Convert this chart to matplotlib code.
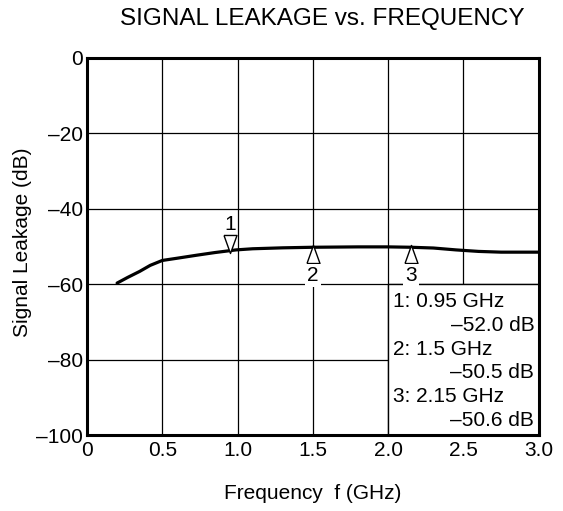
import matplotlib
matplotlib.use("Agg")
import matplotlib.pyplot as plt
import numpy as np
from matplotlib.patches import Rectangle

plt.rcParams['font.family'] = ['Liberation Sans', 'DejaVu Sans']

freq = [0.2, 0.27, 0.35, 0.42, 0.5, 0.6, 0.73, 0.85, 0.99, 1.1, 1.3, 1.5, 1.8, 2.0, 2.15, 2.3, 2.45, 2.6, 2.75, 2.9, 3.0]
leak = [-59.7, -58.2, -56.6, -55.0, -53.7, -53.1, -52.3, -51.6, -50.9, -50.6, -50.35, -50.2, -50.1, -50.1, -50.2, -50.4, -50.9, -51.3, -51.5, -51.5, -51.5]

marker_ids = ["1", "2", "3"]
marker_f = [0.95, 1.5, 2.15]
marker_db = [-52.0, -50.5, -50.6]
marker_f_text = ["0.95", "1.5", "2.15"]

xticks = [0, 0.5, 1.0, 1.5, 2.0, 2.5, 3.0]
xtick_labels = ["0", "0.5", "1.0", "1.5", "2.0", "2.5", "3.0"]
yticks = [0, -20, -40, -60, -80, -100]
ytick_labels = ["0", "\u201320", "\u201340", "\u201360", "\u201380", "\u2013100"]

FS = 15
TRI_DOWN = [(-0.36, 0.5), (0.36, 0.5), (0.0, -0.5), (-0.36, 0.5)]
TRI_UP = [(-0.36, -0.5), (0.36, -0.5), (0.0, 0.5), (-0.36, -0.5)]

fig = plt.figure(figsize=(5.63, 5.11), dpi=100)
ax = fig.add_axes([0.1545, 0.1487, 0.8025, 0.7378])
ax.set_xlim(0, 3.0)
ax.set_ylim(-100, 0)
ax.set_xticks(xticks)
ax.set_xticklabels(xtick_labels)
ax.set_yticks(yticks)
ax.set_yticklabels(ytick_labels)
ax.tick_params(length=0, labelsize=FS)
ax.tick_params(axis='x', pad=4)
ax.tick_params(axis='y', pad=3)
ax.grid(True, color='black', linewidth=0.9)
for s in ax.spines.values():
    s.set_linewidth(2.2)
    s.set_zorder(10)

# legend box covering lower right cell
ax.add_patch(Rectangle((2.0, -100), 1.0, 40, facecolor='white', edgecolor='black',
                       linewidth=1.0, zorder=3))

ax.plot(freq, leak, color='black', linewidth=2.3, zorder=4, solid_capstyle='round',
        solid_joinstyle='round')

curve_at = np.interp(marker_f, freq, leak)
# marker 1: down triangle above curve
ax.plot(marker_f[0], curve_at[0] + 1.8, marker=TRI_DOWN, markersize=13, markerfacecolor='white',
        markeredgecolor='black', markeredgewidth=1.0, zorder=5, linestyle='none')
ax.text(marker_f[0], curve_at[0] + 6.9, marker_ids[0], ha='center', va='center', fontsize=FS, zorder=5)
for i in (1, 2):
    ax.plot(marker_f[i], curve_at[i] - 1.8, marker=TRI_UP, markersize=13, markerfacecolor='white',
            markeredgecolor='black', markeredgewidth=1.0, zorder=5, linestyle='none')
    ax.text(marker_f[i], curve_at[i] - 7.5, marker_ids[i], ha='center', va='center', fontsize=FS,
            zorder=5, bbox=dict(facecolor='white', edgecolor='none', pad=1.5))

# legend text
y0 = -64.6
dy = 6.3
for i in range(3):
    ax.text(2.035, y0 - 2 * i * dy, f"{marker_ids[i]}: {marker_f_text[i]} GHz", ha='left', va='center',
            fontsize=FS, zorder=6)
    ax.text(2.97, y0 - (2 * i + 1) * dy, f"\u2013{abs(marker_db[i]):.1f} dB", ha='right', va='center',
            fontsize=FS, zorder=6)

ax.set_xlabel("Frequency  f (GHz)", fontsize=FS)
ax.xaxis.set_label_coords(0.5, (435 - 493) / 377)
ax.xaxis.label.set_va('center')
ax.set_ylabel("Signal Leakage (dB)", fontsize=FS)
ax.yaxis.set_label_coords((22 - 87) / 452, 0.51)
ax.yaxis.label.set_va('center')
fig.text(322 / 563, 1 - 19 / 511, "SIGNAL LEAKAGE vs. FREQUENCY", ha='center', va='center', fontsize=17.5)

fig.savefig("out.png", dpi=100)
